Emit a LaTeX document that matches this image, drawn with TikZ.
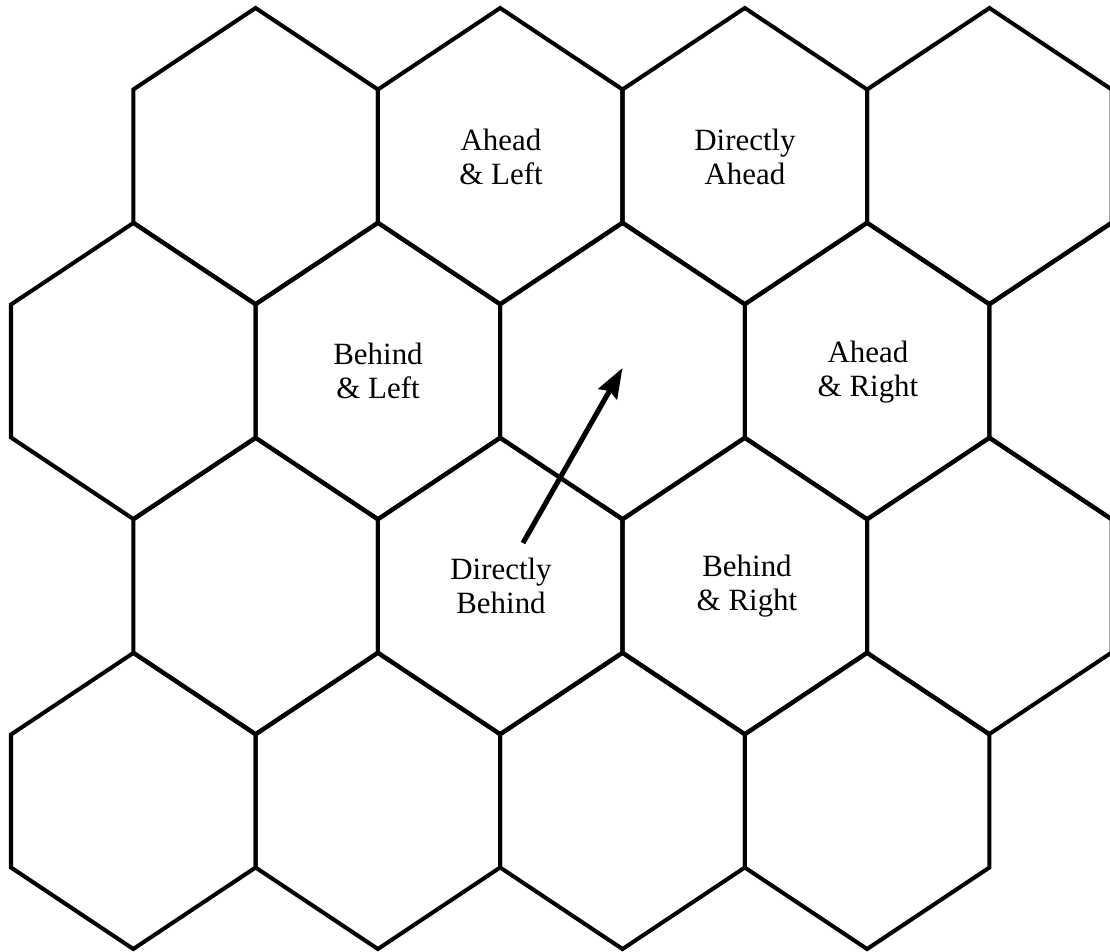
\documentclass[tikz,border=0pt]{standalone}
\usepackage{fontspec}
\setmainfont{Liberation Serif}
\usetikzlibrary{arrows.meta}
\begin{document}
\begin{tikzpicture}[x=0.02cm,y=-0.02cm,
  hexline/.style={line width=2.3pt, line join=miter},
  lbl/.style={align=center, font=\fontsize{17.6}{19}\selectfont, inner sep=0pt},
  pointer/.style={line width=2.9pt, -{Stealth[length=17pt,width=12pt,inset=2pt]}}]
\useasboundingbox (0,0) rectangle (1110,951);
\begin{scope}
\clip (0,0) rectangle (1110,951);
\foreach \k/\r in {2/0,4/0,6/0,8/0, 1/1,3/1,5/1,7/1,9/1, 2/2,4/2,6/2,8/2, 1/3,3/3,5/3,7/3}{
  \pgfmathsetmacro\cx{11+122.3*\k}
  \pgfmathsetmacro\cy{156+215*\r}
  \draw[hexline] (\cx,\cy-148) -- ++(122.3,81.5) -- ++(0,133) -- ++(-122.3,81.5) -- ++(-122.3,-81.5) -- ++(0,-133) -- cycle;
}
\end{scope}
\node[lbl] (al) at (501,157) {Ahead\\\& Left};
\node[lbl] (da) at (745,157) {Directly\\Ahead};
\node[lbl] (bl) at (378,371) {Behind\\\& Left};
\node[lbl] (ar) at (868,372) {Ahead\\\& Right};
\node[lbl] (db) at (501,586) {Directly\\Behind};
\node[lbl] (br) at (747,586) {Behind\\\& Right};
\coordinate (mid) at (622.5,368);
\coordinate (tail) at (523,543);
\draw[pointer] (tail) -- (mid);
\end{tikzpicture}
\end{document}
